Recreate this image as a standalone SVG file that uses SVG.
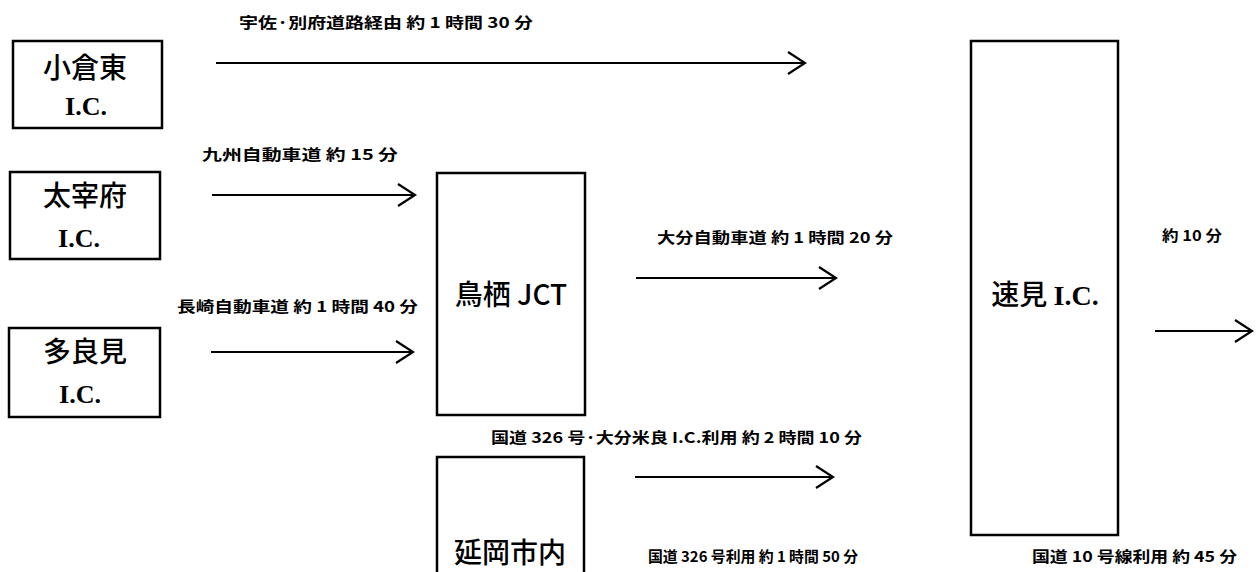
<svg xmlns="http://www.w3.org/2000/svg" width="1257" height="572" viewBox="0 0 1257 572">
<style>
.box{fill:#fff;stroke:#000;stroke-width:2.5}
.ln{stroke:#000;stroke-width:2;fill:none}
.lbl{font-family:"Noto Sans CJK JP","Liberation Sans",sans-serif;font-weight:bold;font-size:15px;fill:#000}
.nm{font-family:"Noto Sans CJK JP","Liberation Sans",sans-serif;font-weight:500;font-size:28px;fill:#000}
.ic{font-family:"Liberation Serif",serif;font-weight:bold;font-size:26px;fill:#000}
</style>
<defs>
<marker id="arr" markerUnits="userSpaceOnUse" markerWidth="22" markerHeight="26" refX="18" refY="12" orient="auto" overflow="visible">
<path d="M1,1 L18,12 L1,23" fill="none" stroke="#000" stroke-width="2.2"/>
</marker>
</defs>
<rect width="1257" height="572" fill="#fff"/>

<g id="node-kokura">
<rect class="box" x="13" y="41" width="149" height="87"/>
<text class="nm" x="85" y="78" text-anchor="middle">小倉東</text>
<text class="ic" x="86" y="115" text-anchor="middle">I.C.</text>
</g>
<g id="node-dazaifu">
<rect class="box" x="10" y="172" width="150" height="87"/>
<text class="nm" x="85" y="206" text-anchor="middle">太宰府</text>
<text class="ic" x="79" y="247" text-anchor="middle">I.C.</text>
</g>
<g id="node-tarami">
<rect class="box" x="9" y="328" width="151" height="89"/>
<text class="nm" x="85" y="362" text-anchor="middle">多良見</text>
<text class="ic" x="80" y="403" text-anchor="middle">I.C.</text>
</g>
<g id="node-tosu">
<rect class="box" x="437" y="173" width="148" height="242"/>
<text class="nm" x="511" y="305" text-anchor="middle" font-size="25">鳥栖 JCT</text>
</g>
<g id="node-nobeoka">
<rect class="box" x="437" y="457" width="147" height="130"/>
<text class="nm" x="510" y="563" text-anchor="middle" font-size="26" textLength="112" lengthAdjust="spacingAndGlyphs">延岡市内</text>
</g>
<g id="node-hayami">
<rect class="box" x="971" y="41" width="147" height="494"/>
<text class="nm" x="1045" y="305" text-anchor="middle" font-size="22">速見 <tspan font-family="Liberation Serif,serif" font-weight="bold">I.C.</tspan></text>
</g>

<g id="connectors">
<line class="ln" x1="216" y1="63" x2="805" y2="63" marker-end="url(#arr)"/>
<line class="ln" x1="212" y1="195" x2="415" y2="195" marker-end="url(#arr)"/>
<line class="ln" x1="211" y1="352" x2="413" y2="352" marker-end="url(#arr)"/>
<line class="ln" x1="636" y1="278" x2="836" y2="278" marker-end="url(#arr)"/>
<line class="ln" x1="635" y1="477" x2="833" y2="477" marker-end="url(#arr)"/>
<line class="ln" x1="1155" y1="331" x2="1252" y2="331" marker-end="url(#arr)"/>
</g>

<g id="labels">
<text class="lbl" x="239" y="28" textLength="294" lengthAdjust="spacingAndGlyphs">宇佐·別府道路経由  約 1 時間 30 分</text>
<text class="lbl" x="202" y="160" textLength="196" lengthAdjust="spacingAndGlyphs">九州自動車道  約 15 分</text>
<text class="lbl" x="177" y="312" textLength="241" lengthAdjust="spacingAndGlyphs">長崎自動車道  約 1 時間 40 分</text>
<text class="lbl" x="657" y="243" textLength="236" lengthAdjust="spacingAndGlyphs">大分自動車道  約 1 時間 20 分</text>
<text class="lbl" x="491" y="443" textLength="371" lengthAdjust="spacingAndGlyphs">国道 326 号·大分米良 I.C.利用  約 2 時間 10 分</text>
<text class="lbl" x="648" y="562" textLength="210" lengthAdjust="spacingAndGlyphs">国道 326 号利用  約 1 時間 50 分</text>
<text class="lbl" x="1162" y="241" textLength="60" lengthAdjust="spacingAndGlyphs">約 10 分</text>
<text class="lbl" x="1032" y="562" textLength="205" lengthAdjust="spacingAndGlyphs">国道 10 号線利用  約 45 分</text>
</g>
</svg>
